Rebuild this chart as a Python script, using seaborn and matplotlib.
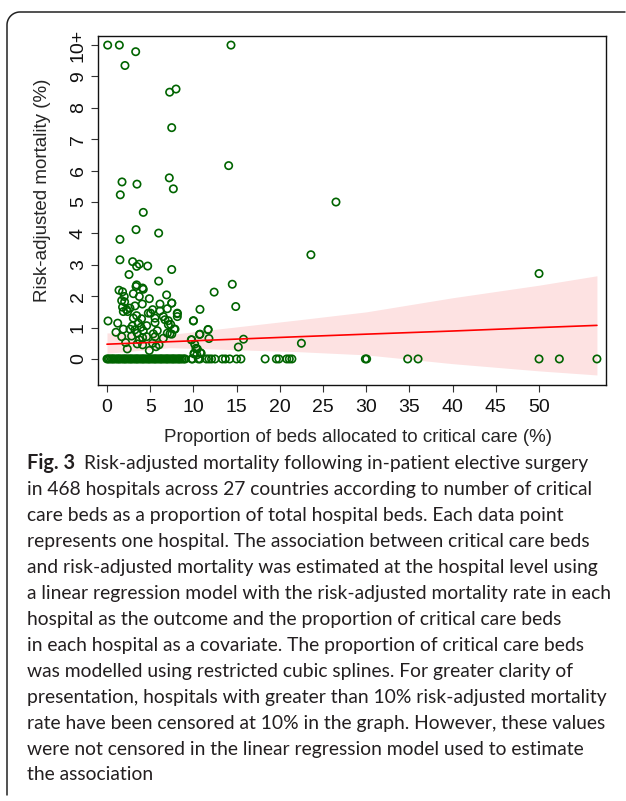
import matplotlib.pyplot as plt
import numpy as np
import seaborn as sns

green = '#006400'
band_pink = '#fde2e2'

# hospitals with non-zero risk-adjusted mortality (censored at 10)
beds_pct = [0.08, 1.43, 3.32, 2.08, 7.25, 7.99, 7.49, 14.35, 14.08, 7.21,
            1.74, 3.47, 7.68, 1.54, 26.5, 23.6, 50.0, 22.5,
            4.2, 3.36, 5.98, 1.5, 1.5, 2.97, 3.43, 3.74, 4.71, 7.49,
            2.55, 5.98, 3.43, 3.36, 4.12, 4.2, 1.39, 1.8, 3.05, 6.9,
            3.74, 2.0, 4.9, 1.7, 2.04, 4.09, 7.49, 6.13, 1.8, 3.24,
            2.27, 6.98, 5.28, 2.66, 6.13, 1.89, 2.4, 4.78, 5.05, 8.14,
            8.14, 3.43, 6.52, 5.56, 3.05, 4.0, 6.71, 7.1, 0.12, 1.24,
            5.56, 3.63, 4.59, 2.93, 7.1, 7.79, 3.94, 1.89, 2.66, 3.24,
            4.2, 5.82, 1.04, 3.5, 6.98, 5.36, 7.29, 2.85, 4.59, 1.7,
            4.12, 5.56, 6.52, 3.74, 2.16, 5.28, 6.02, 4.12, 3.5, 2.35,
            4.9, 5.67, 9.76, 10.0, 10.76, 12.4, 14.5, 14.9, 11.7, 11.8,
            10.7, 10.15, 10.45, 10.1, 10.9, 15.2, 15.8, 7.5, 8.14, 10.0,
            7.87, 7.37, 11.7, 10.76, 7.5, 9.8, 10.3, 10.8, 10.4, 10.07]
mortality = [10.0, 10.0, 9.79, 9.35, 8.5, 8.6, 7.37, 10.0, 6.16, 5.77,
             5.64, 5.57, 5.42, 5.23, 5.0, 3.32, 2.72, 0.5,
             4.67, 4.12, 4.01, 3.81, 3.16, 3.1, 2.95, 3.02, 2.96, 2.85,
             2.69, 2.48, 2.36, 2.31, 2.26, 2.22, 2.19, 2.14, 2.08, 2.04,
             1.99, 1.99, 1.92, 1.86, 1.82, 1.75, 1.78, 1.75, 1.65, 1.69,
             1.57, 1.6, 1.57, 1.62, 1.53, 1.51, 1.51, 1.46, 1.46, 1.46,
             1.35, 1.38, 1.35, 1.3, 1.3, 1.28, 1.25, 1.22, 1.21, 1.14,
             1.16, 1.14, 1.06, 1.05, 1.09, 0.95, 1.01, 0.95, 0.95, 0.93,
             0.9, 0.9, 0.85, 0.82, 0.82, 0.8, 0.8, 0.73, 0.71, 0.71,
             0.68, 0.71, 0.66, 0.61, 0.52, 0.5, 0.45, 0.45, 0.48, 0.32,
             0.27, 0.39, 0.61, 1.22, 1.58, 2.13, 2.38, 1.67, 0.94, 0.65,
             0.78, 0.47, 0.32, 0.16, 0.18, 0.38, 0.63, 1.78, 1.44, 1.21,
             0.95, 1.1, 0.93, 0.79, 0.79, 0.61, 0.34, 0.2, 0.13, 0.18]

# hospitals with zero mortality (x positions only)
zero_beds = [0.0, 0.15, 0.3, 0.5, 0.65, 0.8, 1.0, 1.2, 1.35, 1.5,
             1.7, 1.9, 2.05, 2.2, 2.4, 2.6, 2.75, 2.9, 3.1, 3.3,
             3.45, 3.6, 3.8, 4.0, 4.15, 4.3, 4.5, 4.7, 4.85, 5.0,
             5.2, 5.4, 5.55, 5.7, 5.9, 6.1, 6.25, 6.4, 6.6, 6.8,
             6.95, 7.1, 7.3, 7.5, 7.65, 7.8, 8.0, 8.2, 8.35, 8.5,
             8.7, 8.9, 9.05, 9.8, 9.9, 10.57, 10.76, 11.5, 11.8, 12.1,
             12.5, 13.35, 13.7, 14.2, 15.0, 15.5, 18.3, 19.6, 19.9, 20.8,
             21.1, 21.4, 29.9, 30.05, 34.8, 36.0, 50.0, 52.35, 56.7]

# fitted values with 95% band
fit_x = [0.0, 7.3, 22.3, 30.0, 40.0, 50.0, 56.7]
fit_y = [0.47, 0.55, 0.71, 0.79, 0.89, 1.0, 1.07]
fit_lo = [0.18, 0.36, 0.23, 0.13, -0.15, -0.38, -0.51]
fit_hi = [0.83, 0.78, 1.25, 1.5, 1.95, 2.35, 2.65]

x_ticks = [0, 5, 10, 15, 20, 25, 30, 35, 40, 45, 50]
y_ticks = [0, 1, 2, 3, 4, 5, 6, 7, 8, 9, 10]
y_ticklabels = ['0', '1', '2', '3', '4', '5', '6', '7', '8', '9', '10+']

caption = [
    'in 468 hospitals across 27 countries according to number of critical',
    'care beds as a proportion of total hospital beds. Each data point',
    'represents one hospital. The association between critical care beds',
    'and risk-adjusted mortality was estimated at the hospital level using',
    'a linear regression model with the risk-adjusted mortality rate in each',
    'hospital as the outcome and the proportion of critical care beds',
    'in each hospital as a covariate. The proportion of critical care beds',
    'was modelled using restricted cubic splines. For greater clarity of',
    'presentation, hospitals with greater than 10% risk-adjusted mortality',
    'rate have been censored at 10% in the graph. However, these values',
    'were not censored in the linear regression model used to estimate',
    'the association',
]

sns.set_style('white')
plt.rcParams['font.family'] = ['Liberation Sans', 'DejaVu Sans']

W, H = 626, 801
fig = plt.figure(figsize=(W / 100, H / 100), dpi=100)
ax = fig.add_axes([98 / W, 1 - 385 / H, (606 - 98) / W, (385 - 36) / H])

ax.fill_between(fit_x, fit_lo, fit_hi, color=band_pink, lw=0, zorder=1)
sns.scatterplot(x=zero_beds, y=[0] * len(zero_beds), ax=ax, marker='o', s=28,
                facecolor='none', edgecolor=green, linewidth=1.2, zorder=3)
sns.scatterplot(x=beds_pct, y=mortality, ax=ax, marker='o', s=28,
                facecolor='none', edgecolor=green, linewidth=1.2, zorder=3)
sns.lineplot(x=fit_x, y=fit_y, ax=ax, color='red', lw=1.2, zorder=4)

ax.set_xlim(-1.04, 57.75)
ax.set_ylim(-0.83, 10.29)
ax.set_xticks(x_ticks)
ax.set_yticks(y_ticks)
ax.set_yticklabels(y_ticklabels, rotation=90, va='center')
ax.tick_params(axis='both', direction='out', length=5, width=0.8,
               color='#333333', labelsize=14, labelcolor='#111111')
ax.tick_params(axis='y', left=True, pad=3)
ax.tick_params(axis='x', bottom=True, pad=5)
for s in ax.spines.values():
    s.set_color('#111111')
    s.set_linewidth(1.0)
ax.set_xlabel('Proportion of beds allocated to critical care (%)', fontsize=13.5)
ax.set_ylabel('Risk-adjusted mortality (%)', fontsize=13.5)
ax.xaxis.set_label_coords(0.512, -0.149)
ax.yaxis.set_label_coords(-0.11, 0.559)
ax.xaxis.label.set_va('center')
ax.yaxis.label.set_va('center')

# outer frame: top and left edges with a rounded corner
r = 13
ang = np.linspace(np.pi / 2, np.pi, 20)
px = np.concatenate([[625], 7 + r + r * np.cos(ang), [7]])
py = np.concatenate([[12], 12 + r - r * np.sin(ang), [795]])
fig.add_artist(plt.Line2D(px / W, 1 - py / H, color='#222222', lw=1.1))

cap_font = ['Lato', 'DejaVu Sans']
cap_size = 13.9
fig.canvas.draw()
rend = fig.canvas.get_renderer()
t = fig.text(27 / W, 1 - 463 / H, 'Fig. 3', fontsize=cap_size + 0.4, fontweight='bold',
             family=cap_font, va='center', color='#231f20')
bb = t.get_window_extent(renderer=rend)
fig.text((bb.x1 + 9) / W, 1 - 463 / H,
         'Risk-adjusted mortality following in-patient elective surgery',
         fontsize=cap_size, family=cap_font, va='center', color='#231f20')
for i, line in enumerate(caption):
    fig.text(27 / W, 1 - (489 + 26 * i) / H, line, fontsize=cap_size,
             family=cap_font, va='center', color='#231f20')

fig.savefig('out.png', dpi=100)
